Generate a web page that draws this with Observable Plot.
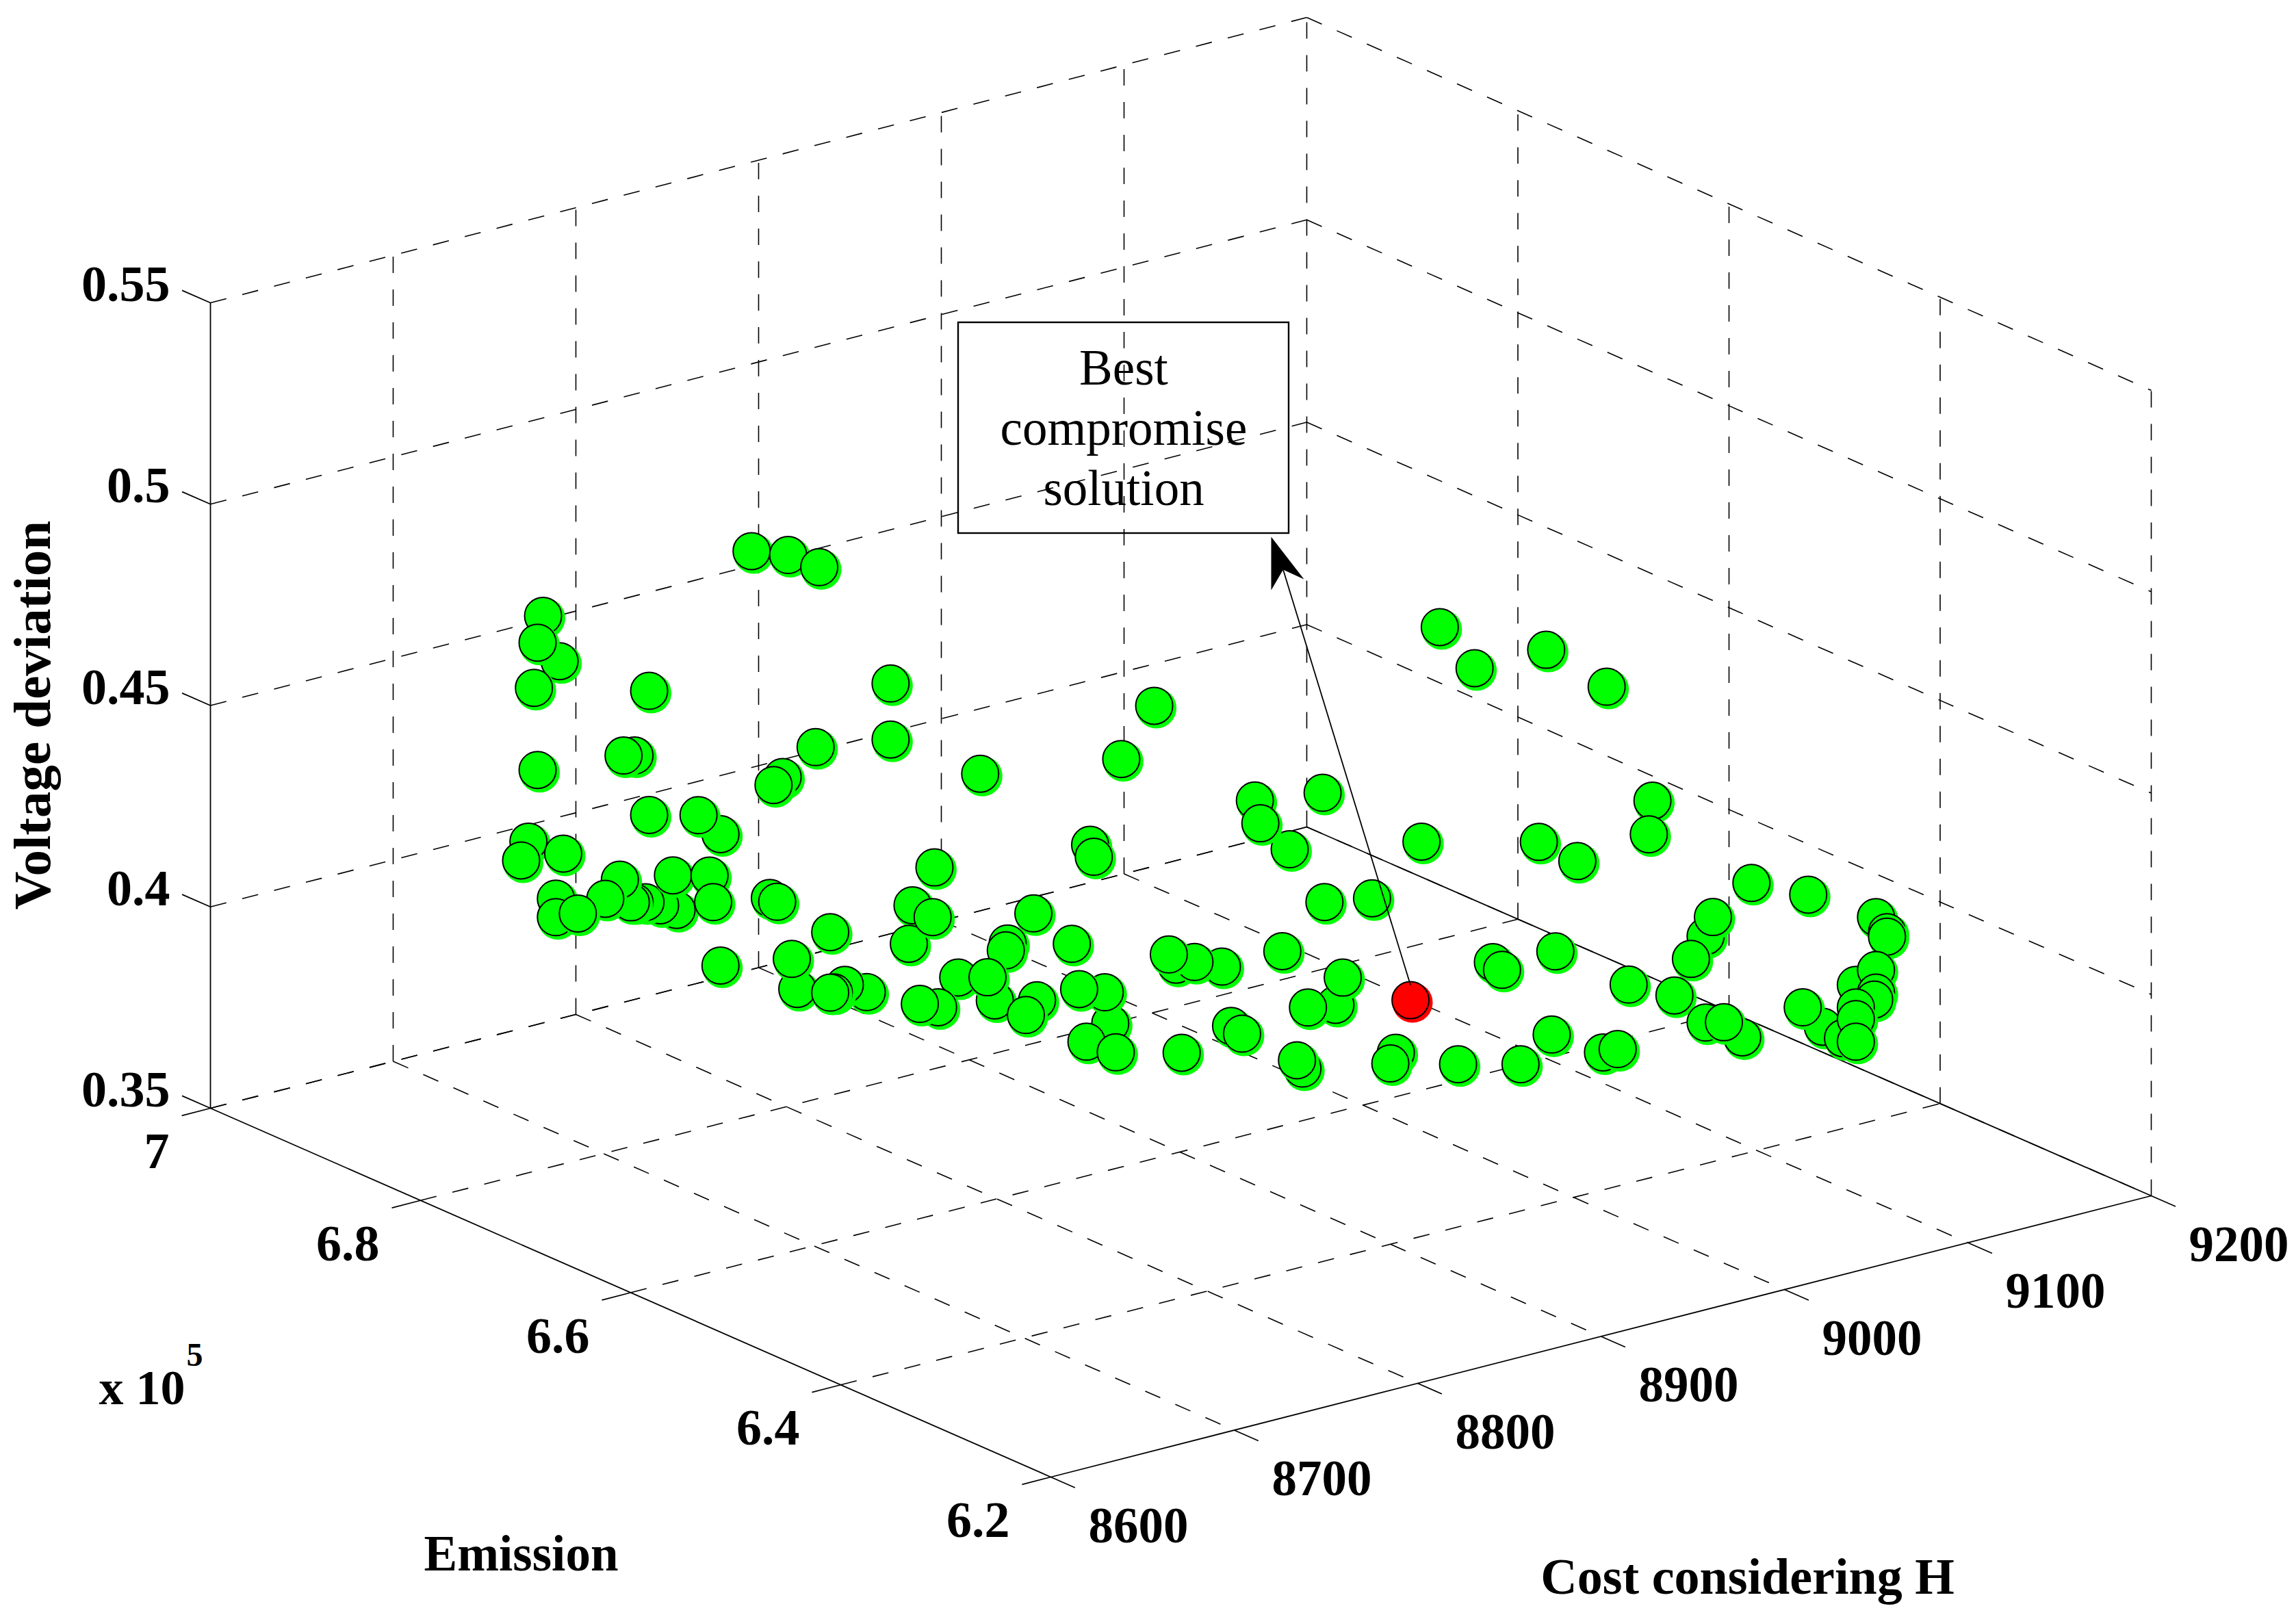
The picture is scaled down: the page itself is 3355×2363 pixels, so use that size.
<!DOCTYPE html>
<html>
<head>
<meta charset="utf-8">
<style>html,body{margin:0;padding:0;background:#fff}</style>
<script src="https://cdn.jsdelivr.net/npm/d3@7"></script>
<script src="https://cdn.jsdelivr.net/npm/@observablehq/plot@0.6"></script>
</head>
<body>
<div id="chart"></div>
<script>
// Tick values of the three axes
const costTicks = [8600, 8700, 8800, 8900, 9000, 9100, 9200];
const emissionTicks = [7, 6.8, 6.6, 6.4, 6.2];
const voltageTicks = [0.35, 0.4, 0.45, 0.5, 0.55];

// Pareto solutions: cost, emission (x 10^5) and voltage deviation
const cost = [
  8822,8781,8801,8818,8667,8676,8664,8662,8725,8857,
  8857,8816,8798,8793,8664,8717,8711,8906,8725,8764,
  8752,8659,8655,8678,8881,8674,8674,8740,8731,8723,
  8717,8715,8709,8701,8686,8738,8758,8760,8791,8795,
  8764,8824,8806,8803,8844,8832,8826,8824,8869,8867,
  8880,8921,8920,8914,8894,8910,8883,8873,8931,
  8820,8841,8862,8859,8845,8849,8865,8901,8898,8923,
  8908,8894,8851,8853,8886,8868,8941,8960,8944,8978,
  9032,8979,9005,8956,8985,8970,8989,9071,9076,8967,
  8964,9018,9015,9052,8928,8934,9042,9061,
  8981,8971,8985,9018,9043,9041,9002,9097,9128,9072,
  9076,9064,9165,9171,9171,8990,9030,9055,9092,9072,
  9082,9136,9125,9147,9154,9165,9165,9164,9154,9154,
  9154,8988,9016,9024
];
const emission = [
  6.6,6.8,6.8,6.8,6.8,6.8,6.8,6.8,6.8,6.8,
  6.8,6.8,6.8,6.8,6.8,6.8,6.8,6.8,6.8,6.8,
  6.8,6.8,6.8,6.8,6.8,6.8,6.8,6.8,6.8,6.8,
  6.8,6.8,6.8,6.8,6.8,6.8,6.8,6.8,6.8,6.8,
  6.8,6.8,6.8,6.8,6.8,6.8,6.8,6.8,6.8,6.8,
  6.8,6.8,6.8,6.8,6.8,6.8,6.8,6.8,6.8,
  6.6,6.6,6.6,6.6,6.6,6.6,6.6,6.6,6.6,6.6,
  6.6,6.6,6.6,6.6,6.6,6.6,6.6,6.6,6.6,6.6,
  6.6,6.6,6.6,6.6,6.6,6.6,6.6,6.6,6.6,6.6,
  6.6,6.6,6.6,6.6,6.6,6.6,6.6,6.6,
  6.4,6.4,6.4,6.4,6.4,6.4,6.4,6.4,6.4,6.4,
  6.4,6.4,6.4,6.4,6.4,6.4,6.4,6.4,6.4,6.4,
  6.4,6.4,6.4,6.4,6.4,6.4,6.4,6.4,6.4,6.4,
  6.4,6.4,6.4,6.4
];
const voltage = [
  .3967,.4900,.4867,.4817,.4873,.4750,.4810,.4700,.4619,.4483,
  .4344,.4373,.4320,.4306,.4494,.4468,.4475,.4202,.4311,.4218,
  .4279,.4322,.4280,.4270,.3999,.4163,.4117,.4058,.4080,.4097,
  .4104,.4106,.4169,.4131,.4112,.4146,.4122,.4054,.4028,.4014,
  .3892,.3905,.3785,.3863,.3733,.3765,.3753,.3755,.3919,.3826,
  .3877,.3764,.3748,.3631,.3711,.3693,.3650,.3670,.3575,
  .4185,.4085,.3863,.3944,.3968,.3833,.3788,.3745,.3967,.3933,
  .3962,.3997,.4319,.4287,.4623,.4512,.4324,.4181,.4264,.4300,
  .4116,.4028,.4007,.3933,.3766,.3777,.3829,.3772,.3747,.3629,
  .3653,.3609,.3586,.3541,.3780,.3754,.4636,.4512,
  .4404,.3864,.4876,.4746,.4434,.4353,.4332,.4167,.4102,.4064,
  .4107,.4017,.4003,.3959,.3948,.4122,.3993,.3937,.3790,.3850,
  .3839,.3765,.3826,.3724,.3848,.3872,.3816,.3800,.3792,.3763,
  .3707,.3918,.3841,.3840
];

// The best compromise solution
const bestCost = [9026];
const bestEmission = [6.6];
const bestVoltage = [0.3730];

// Texts
const calloutLines = ["Best", "compromise", "solution"];
const axisTitles = {cost: "Cost considering H", emission: "Emission", voltage: "Voltage deviation"};

// View of the 3D box, as a fixed oblique projection
const cMin = 8600, cMax = 9200, eMin = 6.2, eMax = 7, vMin = 0.35, vMax = 0.55;
function project(c, e, v) {
  const u = (c - cMin) / (cMax - cMin);
  const w = (eMax - e) / (eMax - eMin);
  return [
    307 + 1228 * w + (1602 + 6 * w) * u,
    1619 + 539 * w - 411 * u - ((v - vMin) / (vMax - vMin)) * (1177 + 6 * u * (1 - w))
  ];
}
const seg = (a, b) => {
  const p = project(...a), q = project(...b);
  return {x1: p[0], y1: p[1], x2: q[0], y2: q[1]};
};

// Dashed grid on the floor and on the two back walls
const dashed = [
  ...costTicks.slice(1, -1).map(c => seg([c, eMax, vMin], [c, eMin, vMin])),
  ...emissionTicks.slice(0, -1).map(e => seg([cMin, e, vMin], [cMax, e, vMin])),
  ...costTicks.slice(1).map(c => seg([c, eMax, vMin], [c, eMax, vMax])),
  ...emissionTicks.slice(1).map(e => seg([cMax, e, vMin], [cMax, e, vMax])),
  ...voltageTicks.map(v => seg([cMin, eMax, v], [cMax, eMax, v])),
  ...voltageTicks.map(v => seg([cMax, eMax, v], [cMax, eMin, v]))
];
// Solid box edges and ticks
const solid = [
  seg([cMin, eMax, vMin], [cMin, eMax, vMax]),
  seg([cMin, eMax, vMin], [cMin, eMin, vMin]),
  seg([cMin, eMin, vMin], [cMax, eMin, vMin]),
  seg([cMax, eMax, vMin], [cMax, eMin, vMin]),
  ...voltageTicks.map(v => seg([cMin, eMax, v], [cMin, eMax + 0.027, v])),
  ...emissionTicks.map(e => seg([cMin, e, vMin], [cMin - 15.7, e, vMin])),
  ...costTicks.map(c => seg([c, eMin, vMin], [c, eMin - 0.023, vMin]))
];

const solutions = cost.map((c, i) => {
  const [x, y] = project(c, emission[i], voltage[i]);
  return {x, y};
});
const best = bestCost.map((c, i) => {
  const [x, y] = project(c, bestEmission[i], bestVoltage[i]);
  return {x, y};
});

function pointMarks(d, color) {
  return [
    Plot.dot([d], {x: "x", y: "y", r: 29.5, dx: 3, dy: 3.5, fill: color, stroke: "none"}),
    Plot.dot([d], {x: "x", y: "y", r: 27, fill: color, stroke: "#000", strokeWidth: 2})
  ];
}

const serif = "Liberation Serif";
const tickText = (ticks, pos, fmt, opts) => Plot.text(ticks, {
  x: d => pos(d)[0], y: d => pos(d)[1], text: fmt,
  fontFamily: serif, fontWeight: "bold", fontSize: 74, fill: "#000", ...opts
});
const at = (p, text, opts) => Plot.text([text], {
  x: () => p[0], y: () => p[1], text: d => d,
  fontFamily: serif, fontWeight: "bold", fill: "#000", ...opts
});

// Callout layout
const box = {x1: 1400, x2: 1883, y1: 471, y2: 779};
const tip = {x: 1857, y: 784};
const head = [tip, {x: 1905, y: 846}, {x: 1874.5, y: 832}, {x: 1857, y: 862}, tip];

const chart = Plot.plot({
  width: 3355, height: 2363, margin: 0,
  style: {background: "#fff"},
  x: {domain: [0, 3355], range: [0, 3355], axis: null},
  y: {domain: [0, 2363], range: [0, 2363], axis: null},
  marks: [
    Plot.link(dashed, {x1: "x1", y1: "y1", x2: "x2", y2: "y2", stroke: "#000", strokeWidth: 1.6, strokeDasharray: "24,24"}),
    Plot.link(solid, {x1: "x1", y1: "y1", x2: "x2", y2: "y2", stroke: "#000", strokeWidth: 1.8}),

    tickText(voltageTicks, v => project(cMin, eMax, v), String, {textAnchor: "end", dx: -59, dy: -26}),
    tickText(emissionTicks, e => project(cMin, e, vMin), String, {textAnchor: "end", dx: -60, dy: 64}),
    tickText(costTicks, c => project(c, eMin, vMin), String, {textAnchor: "middle", dx: 128, dy: 72, fontSize: 73}),

    at(project(cMin, eMax, vMin), "x 10", {textAnchor: "start", dx: -163, dy: 409, fontSize: 72}),
    at(project(cMin, eMax, vMin), "5", {textAnchor: "start", dx: -35, dy: 361, fontSize: 48}),
    at(project(cMin, 6.6, vMin), axisTitles.emission, {textAnchor: "middle", dx: -160, dy: 383, fontSize: 73}),
    at(project(8900, eMin, vMin), axisTitles.cost, {textAnchor: "middle", dx: 214, dy: 352, fontSize: 74}),
    at(project(cMin, eMax, 0.45), axisTitles.voltage, {textAnchor: "middle", dx: -259, dy: 14, rotate: -90, fontSize: 77}),

    ...solutions.flatMap(d => pointMarks(d, "#00ff00")),
    ...best.flatMap(d => pointMarks(d, "#ff0000")),

    Plot.rect([box], {x1: "x1", x2: "x2", y1: "y1", y2: "y2", fill: "none", stroke: "#000", strokeWidth: 2.4}),
    Plot.text(calloutLines, {
      x: () => (box.x1 + box.x2) / 2,
      y: (d, i) => box.y1 + 67 + i * 88,
      text: d => d,
      fontFamily: serif, fontSize: 73, fill: "#000", textAnchor: "middle"
    }),
    Plot.link([{a: best[0], b: {x: 1874.5, y: 832}}], {
      x1: d => d.a.x, y1: d => d.a.y - 22, x2: d => d.b.x, y2: d => d.b.y,
      stroke: "#000", strokeWidth: 1.8
    }),
    Plot.line(head, {x: "x", y: "y", fill: "#000", stroke: "none"})
  ]
});
document.getElementById("chart").appendChild(chart);
</script>
</body>
</html>
